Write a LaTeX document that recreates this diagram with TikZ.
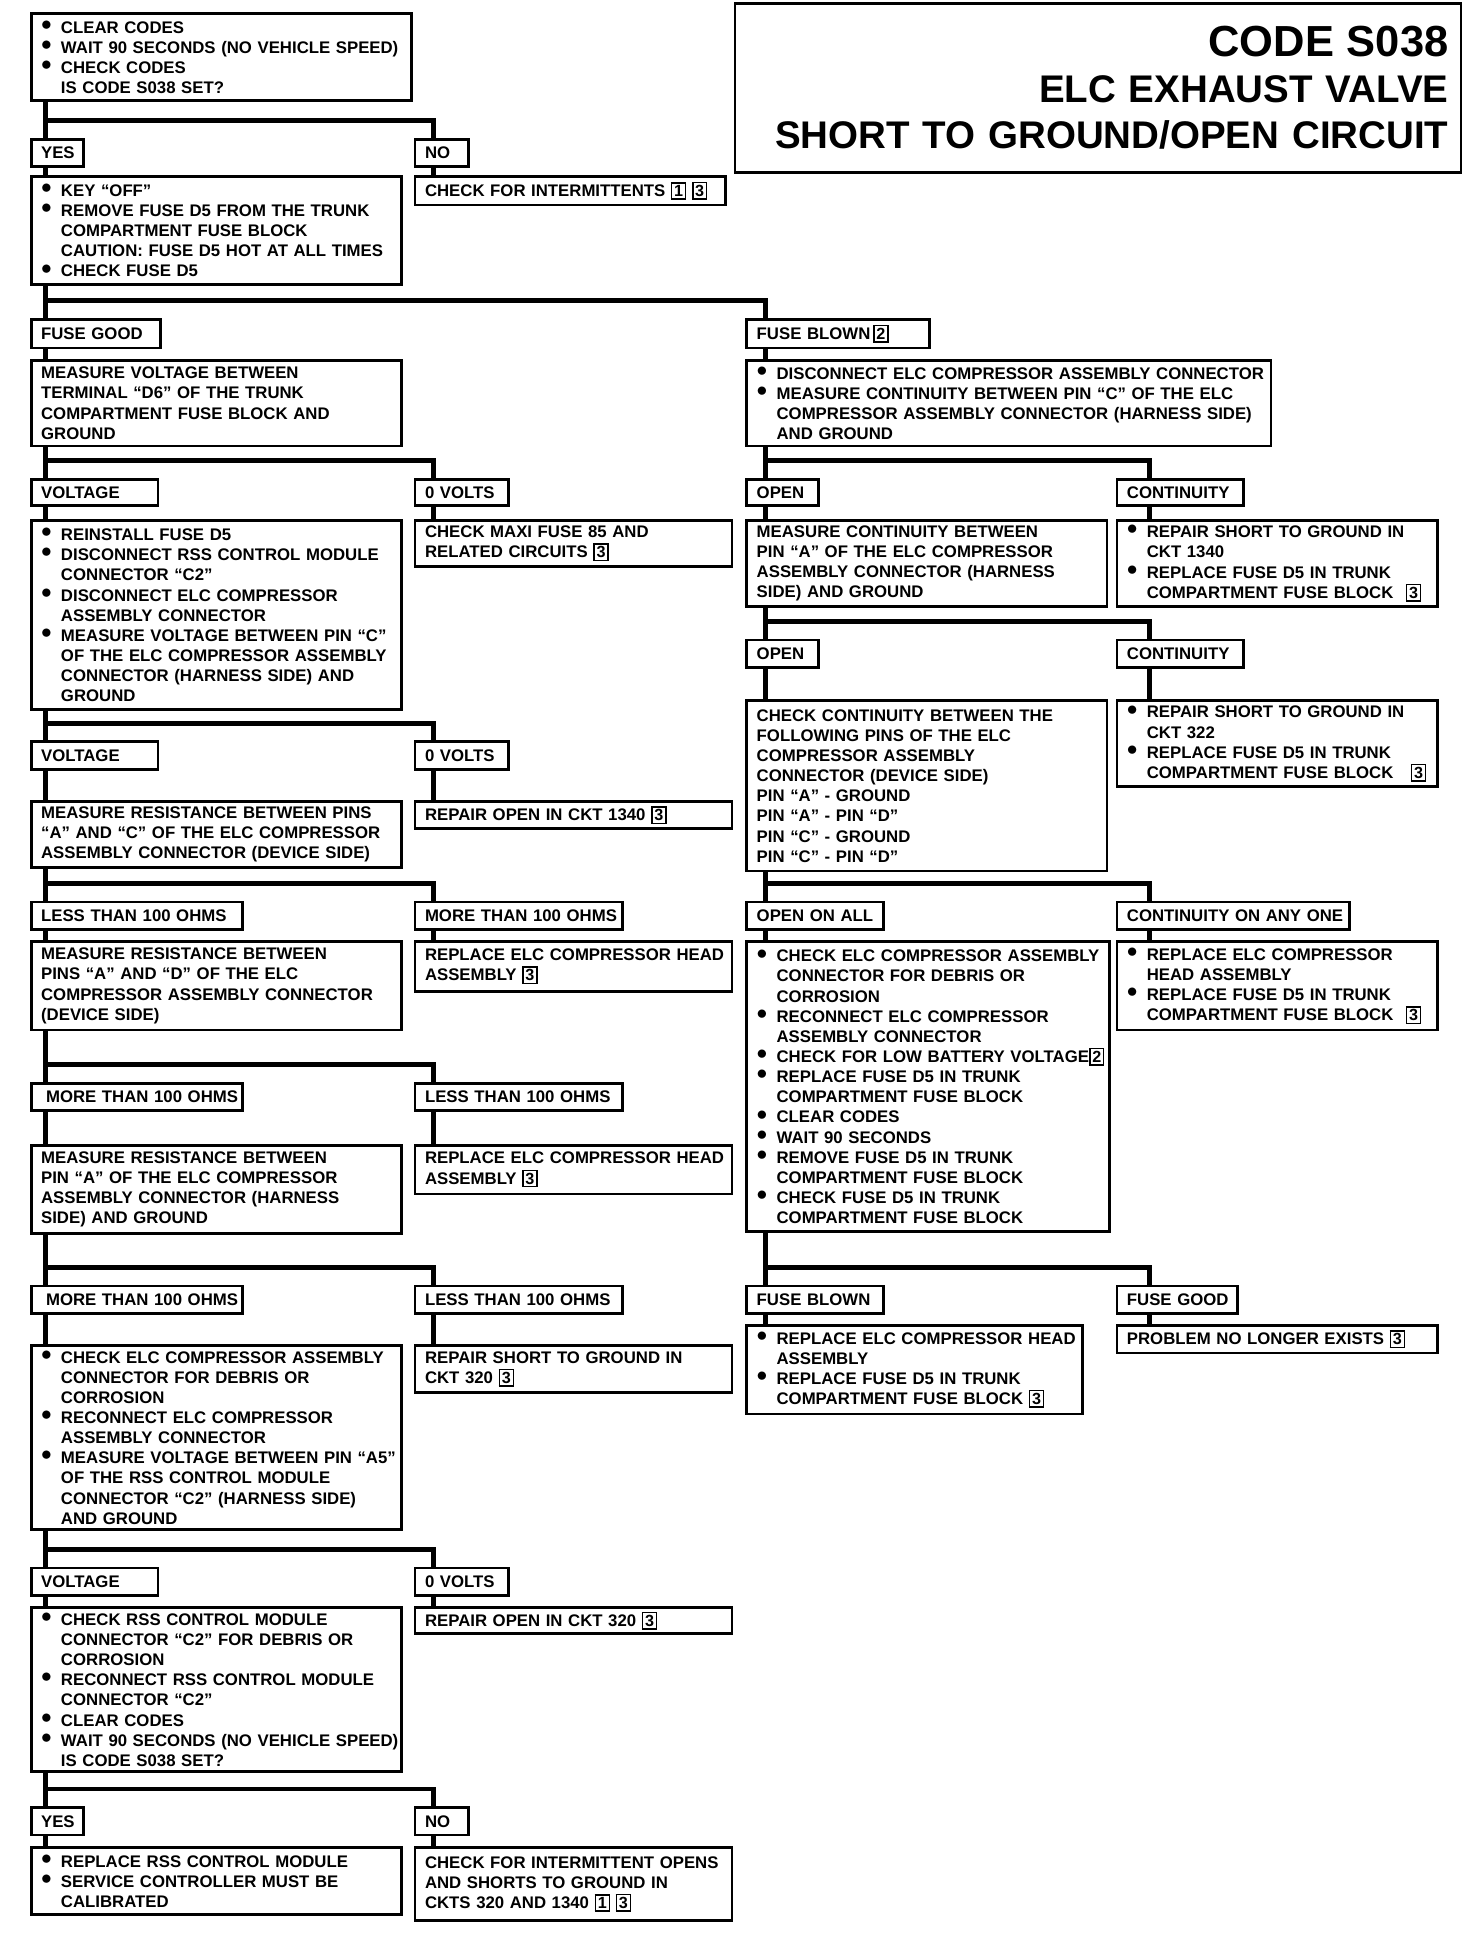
\documentclass[tikz,border=0pt]{standalone}
\usepackage{fontspec}
\setmainfont{Liberation Sans}
\usepackage{tikz}

\newcommand{\bul}{\makebox[16pt][l]{\raisebox{2.3pt}{\fontsize{17}{17}\selectfont$\bullet$}}}
\newcommand{\indln}{\hspace*{16pt}}
\newcommand{\stepno}[1]{{\setlength{\fboxsep}{1.4pt}\setlength{\fboxrule}{1.2pt}\fbox{\fontsize{13}{13}\selectfont #1}}}

\begin{document}
\begin{tikzpicture}[x=1pt,y=-1pt,
    sbox/.style 2 args={draw,line width=2.2pt,anchor=north west,inner xsep=1pt,inner ysep=0pt,
        minimum width=#1pt,minimum height=#2pt,text width=#1pt-2pt,align=left,
        font=\fontsize{13.5}{16.2}\selectfont\bfseries,
        execute at begin node={\leftskip=7pt}},
    title/.style={draw,line width=1.8pt,anchor=north west,minimum width=584pt,minimum height=136pt,
        inner xsep=10pt,inner ysep=0pt,text width=564pt,align=right,
        font=\fontsize{31}{37}\selectfont\bfseries},
    link/.style={line width=4pt}]
    \useasboundingbox (0,0) rectangle (1185,1568);

    % Title block
    \node[title] (title) at (591,2) {{\fontsize{35}{37}\selectfont CODE S038}\\ELC EXHAUST VALVE\\SHORT TO GROUND/OPEN CIRCUIT};

    % First check
    \node[sbox={306}{70}] (start) at (24,10) {\bul CLEAR CODES\\ \bul WAIT 90 SECONDS (NO VEHICLE SPEED)\\ \bul CHECK CODES\\ \indln IS CODE S038 SET?};
    \node[sbox={42}{22}] (yes1) at (24,111) {YES};
    \node[sbox={43}{22}] (no1) at (333,111) {NO};
    \node[sbox={298}{87}] (keyoff) at (24,141) {\bul KEY ``OFF''\\ \bul REMOVE FUSE D5 FROM THE TRUNK\\ \indln COMPARTMENT FUSE BLOCK\\ \indln CAUTION: FUSE D5 HOT AT ALL TIMES\\ \bul CHECK FUSE D5};
    \node[sbox={250}{23}] (intermit) at (333,141) {CHECK FOR INTERMITTENTS \stepno{1} \stepno{3}};

    % Fuse D5
    \node[sbox={104}{23}] (fusegood) at (24,256) {FUSE GOOD};
    \node[sbox={147}{23}] (fuseblown) at (600,256) {FUSE BLOWN\,\stepno{2}};
    \node[sbox={298}{69}] (measvolt) at (24,289) {MEASURE VOLTAGE BETWEEN\\TERMINAL ``D6'' OF THE TRUNK\\COMPARTMENT FUSE BLOCK AND\\GROUND};
    \node[sbox={422}{69}] (disconn) at (600,289) {\bul DISCONNECT ELC COMPRESSOR ASSEMBLY CONNECTOR\\ \bul MEASURE CONTINUITY BETWEEN PIN ``C'' OF THE ELC\\ \indln COMPRESSOR ASSEMBLY CONNECTOR (HARNESS SIDE)\\ \indln AND GROUND};

    % Left column: voltage at D6
    \node[sbox={102}{21}] (volt1) at (24,385) {VOLTAGE};
    \node[sbox={75}{21}] (zerov1) at (333,385) {0 VOLTS};
    \node[sbox={298}{152}] (reinstall) at (24,418) {\bul REINSTALL FUSE D5\\ \bul DISCONNECT RSS CONTROL MODULE\\ \indln CONNECTOR ``C2''\\ \bul DISCONNECT ELC COMPRESSOR\\ \indln ASSEMBLY CONNECTOR\\ \bul MEASURE VOLTAGE BETWEEN PIN ``C''\\ \indln OF THE ELC COMPRESSOR ASSEMBLY\\ \indln CONNECTOR (HARNESS SIDE) AND\\ \indln GROUND};
    \node[sbox={255}{37}] (maxi) at (333,418) {CHECK MAXI FUSE 85 AND\\RELATED CIRCUITS \stepno{3}};
    \node[sbox={102}{22}] (volt2) at (24,596) {VOLTAGE};
    \node[sbox={75}{22}] (zerov2) at (333,596) {0 VOLTS};
    \node[sbox={298}{53}] (resAC) at (24,644) {MEASURE RESISTANCE BETWEEN PINS\\``A'' AND ``C'' OF THE ELC COMPRESSOR\\ASSEMBLY CONNECTOR (DEVICE SIDE)};
    \node[sbox={255}{22}] (open1340) at (333,644) {REPAIR OPEN IN CKT 1340 \stepno{3}};
    \node[sbox={170}{22}] (less1) at (24,725) {LESS THAN 100 OHMS};
    \node[sbox={167}{22}] (more1) at (333,725) {MORE THAN 100 OHMS};
    \node[sbox={298}{71}] (resAD) at (24,757) {MEASURE RESISTANCE BETWEEN\\PINS ``A'' AND ``D'' OF THE ELC\\COMPRESSOR ASSEMBLY CONNECTOR\\(DEVICE SIDE)};
    \node[sbox={255}{40}] (headA) at (333,757) {REPLACE ELC COMPRESSOR HEAD\\ASSEMBLY \stepno{3}};
    \node[sbox={170}{22}] (more2) at (24,871) {\hspace*{4pt}MORE THAN 100 OHMS};
    \node[sbox={167}{22}] (less2) at (333,871) {LESS THAN 100 OHMS};
    \node[sbox={298}{71}] (resA) at (24,921) {MEASURE RESISTANCE BETWEEN\\PIN ``A'' OF THE ELC COMPRESSOR\\ASSEMBLY CONNECTOR (HARNESS\\SIDE) AND GROUND};
    \node[sbox={255}{39}] (headB) at (333,921) {REPLACE ELC COMPRESSOR HEAD\\ASSEMBLY \stepno{3}};
    \node[sbox={170}{22}] (more3) at (24,1034) {\hspace*{4pt}MORE THAN 100 OHMS};
    \node[sbox={167}{22}] (less3) at (333,1034) {LESS THAN 100 OHMS};
    \node[sbox={298}{148}] (checkElc) at (24,1082) {\bul CHECK ELC COMPRESSOR ASSEMBLY\\ \indln CONNECTOR FOR DEBRIS OR\\ \indln CORROSION\\ \bul RECONNECT ELC COMPRESSOR\\ \indln ASSEMBLY CONNECTOR\\ \bul MEASURE VOLTAGE BETWEEN PIN ``A5''\\ \indln OF THE RSS CONTROL MODULE\\ \indln CONNECTOR ``C2'' (HARNESS SIDE)\\ \indln AND GROUND};
    \node[sbox={255}{38}] (short320) at (333,1082) {REPAIR SHORT TO GROUND IN\\CKT 320 \stepno{3}};
    \node[sbox={102}{22}] (volt3) at (24,1261) {VOLTAGE};
    \node[sbox={75}{22}] (zerov3) at (333,1261) {0 VOLTS};
    \node[sbox={298}{132}] (checkRss) at (24,1293) {\bul CHECK RSS CONTROL MODULE\\ \indln CONNECTOR ``C2'' FOR DEBRIS OR\\ \indln CORROSION\\ \bul RECONNECT RSS CONTROL MODULE\\ \indln CONNECTOR ``C2''\\ \bul CLEAR CODES\\ \bul WAIT 90 SECONDS (NO VEHICLE SPEED)\\ \indln IS CODE S038 SET?};
    \node[sbox={255}{21}] (open320) at (333,1293) {REPAIR OPEN IN CKT 320 \stepno{3}};
    \node[sbox={42}{22}] (yes2) at (24,1454) {YES};
    \node[sbox={43}{22}] (no2) at (333,1454) {NO};
    \node[sbox={298}{54}] (replRss) at (24,1486) {\bul REPLACE RSS CONTROL MODULE\\ \bul SERVICE CONTROLLER MUST BE\\ \indln CALIBRATED};
    \node[sbox={255}{59}] (intermit2) at (333,1486) {CHECK FOR INTERMITTENT OPENS\\AND SHORTS TO GROUND IN\\CKTS 320 AND 1340 \stepno{1} \stepno{3}};

    % Right column: fuse blown
    \node[sbox={58}{21}] (open1) at (600,385) {OPEN};
    \node[sbox={102}{21}] (cont1) at (898,385) {CONTINUITY};
    \node[sbox={290}{69}] (measA) at (600,418) {MEASURE CONTINUITY BETWEEN\\PIN ``A'' OF THE ELC COMPRESSOR\\ASSEMBLY CONNECTOR (HARNESS\\SIDE) AND GROUND};
    \node[sbox={258}{69}] (short1340) at (898,418) {\bul REPAIR SHORT TO GROUND IN\\ \indln CKT 1340\\ \bul REPLACE FUSE D5 IN TRUNK\\ \indln COMPARTMENT FUSE BLOCK\hfill\stepno{3}\kern12pt};
    \node[sbox={58}{22}] (open2) at (600,514) {OPEN};
    \node[sbox={102}{22}] (cont2) at (898,514) {CONTINUITY};
    \node[sbox={290}{137}] (pins) at (600,563) {CHECK CONTINUITY BETWEEN THE\\FOLLOWING PINS OF THE ELC\\COMPRESSOR ASSEMBLY\\CONNECTOR (DEVICE SIDE)\\PIN ``A'' - GROUND\\PIN ``A'' - PIN ``D''\\PIN ``C'' - GROUND\\PIN ``C'' - PIN ``D''};
    \node[sbox={258}{69}] (short322) at (898,563) {\bul REPAIR SHORT TO GROUND IN\\ \indln CKT 322\\ \bul REPLACE FUSE D5 IN TRUNK\\ \indln COMPARTMENT FUSE BLOCK\hfill\stepno{3}\kern8pt};
    \node[sbox={110}{22}] (openall) at (600,725) {OPEN ON ALL};
    \node[sbox={187}{22}] (contany) at (898,725) {CONTINUITY ON ANY ONE};
    \node[sbox={292}{233}] (bigcheck) at (600,757) {\bul CHECK ELC COMPRESSOR ASSEMBLY\\ \indln CONNECTOR FOR DEBRIS OR\\ \indln CORROSION\\ \bul RECONNECT ELC COMPRESSOR\\ \indln ASSEMBLY CONNECTOR\\ \bul CHECK FOR LOW BATTERY VOLTAGE\stepno{2}\\ \bul REPLACE FUSE D5 IN TRUNK\\ \indln COMPARTMENT FUSE BLOCK\\ \bul CLEAR CODES\\ \bul WAIT 90 SECONDS\\ \bul REMOVE FUSE D5 IN TRUNK\\ \indln COMPARTMENT FUSE BLOCK\\ \bul CHECK FUSE D5 IN TRUNK\\ \indln COMPARTMENT FUSE BLOCK};
    \node[sbox={258}{71}] (headAny) at (898,757) {\bul REPLACE ELC COMPRESSOR\\ \indln HEAD ASSEMBLY\\ \bul REPLACE FUSE D5 IN TRUNK\\ \indln COMPARTMENT FUSE BLOCK\hfill\stepno{3}\kern12pt};
    \node[sbox={110}{22}] (fblown2) at (600,1034) {FUSE BLOWN};
    \node[sbox={97}{22}] (fgood2) at (898,1034) {FUSE GOOD};
    \node[sbox={270}{71}] (replHead) at (600,1066) {\bul REPLACE ELC COMPRESSOR HEAD\\ \indln ASSEMBLY\\ \bul REPLACE FUSE D5 IN TRUNK\\ \indln COMPARTMENT FUSE BLOCK \stepno{3}};
    \node[sbox={258}{22}] (nolonger) at (898,1066) {PROBLEM NO LONGER EXISTS \stepno{3}};

    % Splits, left column
    \foreach \q/\a/\b in {start/yes1/no1, keyoff/fusegood/fuseblown, measvolt/volt1/zerov1, reinstall/volt2/zerov2,
        resAC/less1/more1, resAD/more2/less2, resA/more3/less3, checkElc/volt3/zerov3, checkRss/yes2/no2}{
        \draw[link] ([xshift=13pt]\q.south west) -- ([xshift=13pt]\a.north west);
        \draw[link] ([xshift=13pt,yshift=14pt]\a.north west) -| ([xshift=16pt]\b.north west);
    }
    % Splits, right column
    \foreach \q/\a/\b in {disconn/open1/cont1, measA/open2/cont2, pins/openall/contany, bigcheck/fblown2/fgood2}{
        \draw[link] ([xshift=16pt]\q.south west) -- ([xshift=16pt]\a.north west);
        \draw[link] ([xshift=16pt,yshift=14pt]\a.north west) -| ([xshift=27pt]\b.north west);
    }
    % Answer to next step
    \foreach \a/\b/\s in {yes1/keyoff/13, no1/intermit/16, fusegood/measvolt/13, fuseblown/disconn/16,
        volt1/reinstall/13, zerov1/maxi/16, open1/measA/16, cont1/short1340/27,
        volt2/resAC/13, zerov2/open1340/16, open2/pins/16, cont2/short322/27,
        less1/resAD/13, more1/headA/16, openall/bigcheck/16, contany/headAny/27,
        more2/resA/13, less2/headB/16, fblown2/replHead/16, fgood2/nolonger/27,
        more3/checkElc/13, less3/short320/16, volt3/checkRss/13, zerov3/open320/16,
        yes2/replRss/13, no2/intermit2/16}
        \draw[link] ([xshift=\s pt]\a.south west) -- ([xshift=\s pt]\b.north west);
\end{tikzpicture}
\end{document}
